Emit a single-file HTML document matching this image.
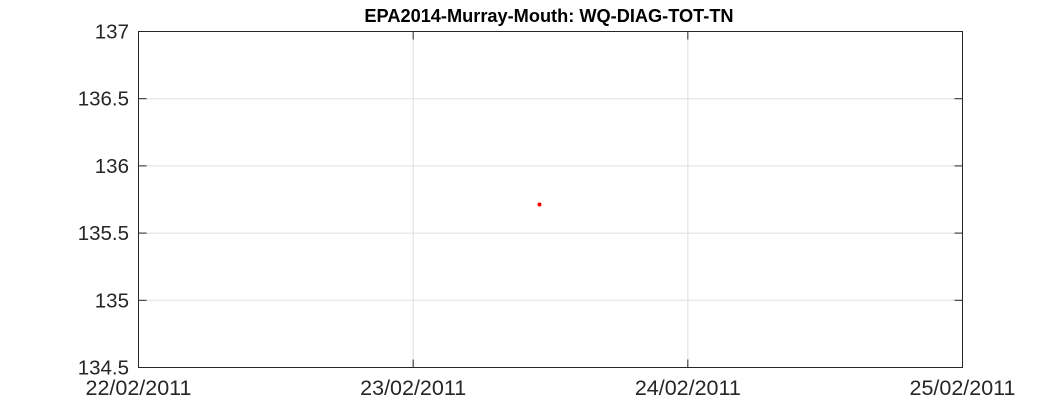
<!DOCTYPE html>
<html><head><meta charset="utf-8"><style>
html,body{margin:0;padding:0;background:#fff;width:1063px;height:413px;overflow:hidden}
text{font-family:"Liberation Sans",Arial,sans-serif}
</style></head><body>
<svg id="chart" width="1063" height="413" xmlns="http://www.w3.org/2000/svg">
<g id="grid"></g>
<rect x="138.5" y="31.5" width="824" height="336" fill="none" stroke="#262626" stroke-width="1"/>
<g id="ticks"></g>
<g id="marks"></g>
<text x="549" y="22" text-anchor="middle" font-size="18.2" font-weight="bold" fill="#000">EPA2014-Murray-Mouth: WQ-DIAG-TOT-TN</text>
</svg>
<script>
const xTickLabels=["22/02/2011","23/02/2011","24/02/2011","25/02/2011"];
const yTickValues=[134.5,135,135.5,136,136.5,137];
const yTickLabels=["134.5","135","135.5","136","136.5","137"];
const pointDays=[1.46];
const pointValues=[135.713];

const L=138.5,R=962.5,T=31.5,B=367.5;
const xMin=0,xMax=3,yMin=134.5,yMax=137;
const xs=d=>L+(d-xMin)/(xMax-xMin)*(R-L);
const ys=v=>B-(v-yMin)/(yMax-yMin)*(B-T);
const NS="http://www.w3.org/2000/svg";
function mk(tag,attrs,parent){const e=document.createElementNS(NS,tag);for(const k in attrs)e.setAttribute(k,attrs[k]);parent.appendChild(e);return e;}
const grid=document.getElementById('grid'),ticks=document.getElementById('ticks'),marks=document.getElementById('marks');
xTickLabels.forEach((lab,i)=>{
  const x=xs(i);
  if(i>0&&i<xTickLabels.length-1){const g=mk('line',{x1:x,x2:x,y1:T,y2:B,stroke:'#dfdfdf'},grid);
  
  }
  const t1=mk('line',{x1:x,x2:x,y1:B,y2:B-8,stroke:'#262626'},ticks);
  
  
  const t2=mk('line',{x1:x,x2:x,y1:T,y2:T+8,stroke:'#262626'},ticks);
  
  
  const tx=mk('text',{x:x,y:395,'text-anchor':'middle','font-size':'21.5',fill:'#262626'},ticks);
  tx.textContent=lab;
  
  
});
yTickValues.forEach((v,i)=>{
  const y=ys(v);
  if(i>0&&i<yTickValues.length-1){const g=mk('line',{x1:L,x2:R,y1:y,y2:y,stroke:'#dfdfdf'},grid);
  
  }
  const t1=mk('line',{x1:L,x2:L+8,y1:y,y2:y,stroke:'#262626'},ticks);
  
  
  const t2=mk('line',{x1:R,x2:R-8,y1:y,y2:y,stroke:'#262626'},ticks);
  
  
  const tx=mk('text',{x:129,y:y+7,'text-anchor':'end','font-size':'20.5',fill:'#262626'},ticks);
  tx.textContent=yTickLabels[i];
  
  
});
pointDays.forEach((d,i)=>{
  const c=mk('circle',{cx:xs(d),cy:ys(pointValues[i]),r:2,fill:'#ff0000'},marks);
  
  
});
</script>
</body></html>
